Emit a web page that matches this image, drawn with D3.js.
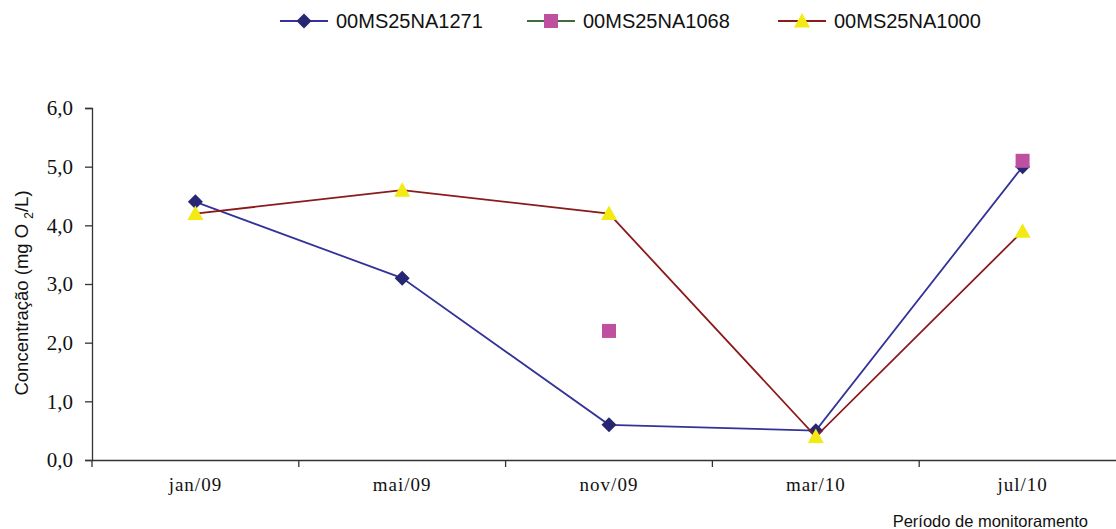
<!DOCTYPE html>
<html>
<head>
<meta charset="utf-8">
<script src="https://cdn.jsdelivr.net/npm/d3@7"></script>
<style>
  body { margin: 0; background: #fff; }
  svg { display: block; }
</style>
</head>
<body>
<div id="chart"></div>
<script>
const periods = ['jan/09', 'mai/09', 'nov/09', 'mar/10', 'jul/10'];
const na1271 = [4.4, 3.1, 0.6, 0.5, 5.0];
const na1068 = [null, null, 2.2, null, 5.1];
const na1000 = [4.2, 4.6, 4.2, 0.4, 3.9];
const yTicks = [0, 1, 2, 3, 4, 5, 6];

const width = 1116;
const height = 529;
const margin = {top: 108, right: -10, bottom: 69, left: 92};

const serif = '"Liberation Serif", "Times New Roman", Times, serif';
const sans = '"Liberation Sans", Arial, Helvetica, sans-serif';

const series = [
  {name: '00MS25NA1271', values: na1271, line: '#333399', fill: '#262673', marker: 'diamond', legendLine: '#333399'},
  {name: '00MS25NA1068', values: na1068, line: '#3f6b3f', fill: '#bf4f9f', marker: 'square', legendLine: '#3f6b3f'},
  {name: '00MS25NA1000', values: na1000, line: '#8b1a1a', fill: '#f2ea12', marker: 'triangle', legendLine: '#8b1a1a'}
];

const svg = d3.select('#chart')
  .append('svg')
  .attr('width', width)
  .attr('height', height);

const x = d3.scaleBand()
  .domain(periods)
  .range([margin.left, width - margin.right]);

const y = d3.scaleLinear()
  .domain([0, 6])
  .range([height - margin.bottom, margin.top]);

// y axis
const yAxis = svg.append('g')
  .attr('transform', `translate(${margin.left},0)`)
  .call(d3.axisLeft(y).tickValues(yTicks).tickSize(7).tickFormat(d => d3.format('.1f')(d).replace('.', ',')));
yAxis.select('.domain').attr('stroke', '#333').attr('stroke-width', 1.3);
yAxis.selectAll('.tick line').attr('stroke', '#333').attr('stroke-width', 1.3);
yAxis.selectAll('.tick text')
  .style('font-family', serif)
  .style('font-size', '21px')
  .attr('fill', '#111')
  .attr('x', -19);

// x axis
const xAxis = svg.append('g')
  .attr('transform', `translate(0,${y(0)})`)
  .call(d3.axisBottom(x).tickSize(0).tickPadding(18));
xAxis.select('.domain').attr('stroke', '#333').attr('stroke-width', 1.3);
xAxis.selectAll('.tick text')
  .style('font-family', serif)
  .style('font-size', '19px')
  .attr('letter-spacing', 1)
  .attr('fill', '#111');

// category separators on x axis
const edges = periods.map(p => x(p)).concat([x(periods[periods.length - 1]) + x.bandwidth()]);
svg.append('g')
  .selectAll('line')
  .data(edges)
  .join('line')
  .attr('x1', d => d)
  .attr('x2', d => d)
  .attr('y1', y(0))
  .attr('y2', y(0) + 7)
  .attr('stroke', '#333')
  .attr('stroke-width', 1.3);

// axis titles
const yTitle = svg.append('text')
  .attr('transform', `translate(28,${(y(0) + y(6)) / 2 + 9}) rotate(-90)`)
  .attr('text-anchor', 'middle')
  .style('font-family', sans)
  .style('font-size', '18.5px')
  .attr('fill', '#111');
yTitle.append('tspan').text('Concentração (mg O ');
yTitle.append('tspan').style('font-size', '12px').attr('dy', 5).text('2');
yTitle.append('tspan').attr('dy', -5).text('/L)');

svg.append('text')
  .attr('x', 1088)
  .attr('y', 527)
  .attr('text-anchor', 'end')
  .style('font-family', sans)
  .style('font-size', '16.5px')
  .attr('fill', '#111')
  .text('Período de monitoramento');

const cx = i => x(periods[i]) + x.bandwidth() / 2;

const markerPath = (type) => {
  if (type === 'diamond') return 'M0,-7.5L7.5,0L0,7.5L-7.5,0Z';
  if (type === 'square') return 'M-7,-7H7V7H-7Z';
  return 'M0,-8L8,6.5H-8Z';
};

const line = d3.line()
  .defined(d => d.v !== null)
  .x(d => cx(d.i))
  .y(d => y(d.v));

const plot = svg.append('g');

series.forEach(s => {
  const pts = s.values.map((v, i) => ({v, i}));
  const g = plot.append('g');
  g.append('path')
    .datum(pts)
    .attr('fill', 'none')
    .attr('stroke', s.line)
    .attr('stroke-width', 1.8)
    .attr('d', line);
  g.selectAll('path.mk')
    .data(pts.filter(d => d.v !== null))
    .join('path')
    .attr('class', 'mk')
    .attr('transform', d => `translate(${cx(d.i)},${y(d.v)})`)
    .attr('d', markerPath(s.marker))
    .attr('fill', s.fill);
});

// legend
const legendX = [280, 527, 778];
const legend = svg.append('g');
series.forEach((s, k) => {
  const g = legend.append('g').attr('transform', `translate(${legendX[k]},21)`);
  g.append('line')
    .attr('x1', 0).attr('x2', 48)
    .attr('y1', 0).attr('y2', 0)
    .attr('stroke', s.legendLine)
    .attr('stroke-width', 2);
  g.append('path')
    .attr('transform', 'translate(24,0)')
    .attr('d', markerPath(s.marker))
    .attr('fill', s.fill);
  g.append('text')
    .attr('x', 56)
    .attr('y', 7)
    .style('font-family', sans)
    .style('font-size', '20px')
    .attr('fill', '#111')
    .text(s.name);
});
</script>
</body>
</html>
